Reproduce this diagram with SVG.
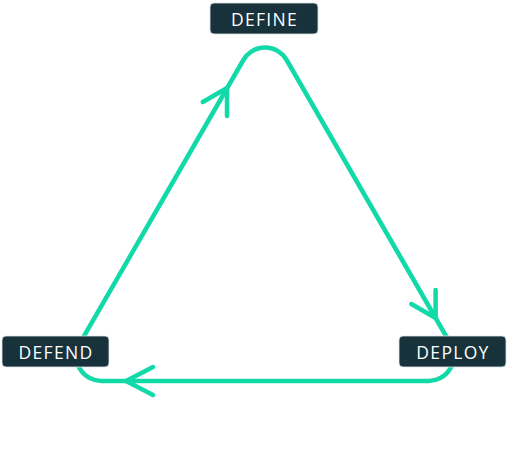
<svg xmlns="http://www.w3.org/2000/svg" width="507" height="464" viewBox="0 0 507 464">
<style>
.box{fill:#17323b;stroke:#dfe6e8;stroke-width:0.8}
.lbl{fill:#ffffff;font-family:"Open Sans","Liberation Sans",sans-serif;font-size:17.5px;letter-spacing:1.3px;text-anchor:middle;dominant-baseline:central}
.edge{fill:none;stroke:#12d9a8;stroke-width:4.5;stroke-linecap:round;stroke-linejoin:round}
</style>
<rect width="507" height="464" fill="#ffffff"/>
<g id="connectors">
<path class="edge" d="M 243.35 60 A 25 25 0 0 1 286.65 60 L 450.35 343.5 A 25 25 0 0 1 428.7 381 L 101.3 381 A 25 25 0 0 1 79.65 343.5 Z"/>
<polyline class="edge" points="202.8,102 227,88 227,116"/>
<polyline class="edge" points="411.4,304 435.6,318 435.6,290"/>
<polyline class="edge" points="153,367 126,381 153,395"/>
</g>
<g id="define">
<rect class="box" x="210" y="3" width="108" height="31" rx="4"/>
<text class="lbl" x="264.5" y="19">DEFINE</text>
</g>
<g id="defend">
<rect class="box" x="2" y="336" width="107" height="31" rx="4"/>
<text class="lbl" x="56" y="352">DEFEND</text>
</g>
<g id="deploy">
<rect class="box" x="399" y="336" width="107" height="31" rx="4"/>
<text class="lbl" x="453" y="352">DEPLOY</text>
</g>
</svg>
